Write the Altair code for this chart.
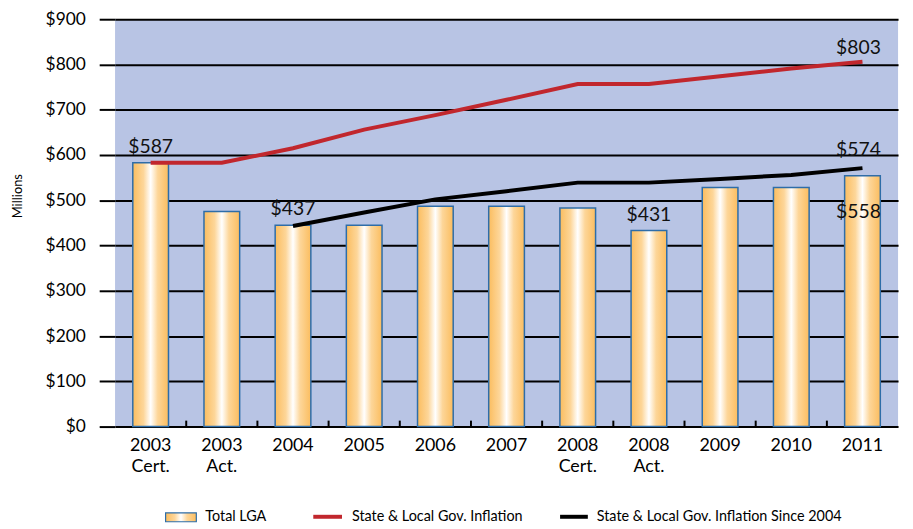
import altair as alt
import pandas as pd

# ---- data ----
categories = ["2003|Cert.", "2003|Act.", "2004", "2005", "2006", "2007",
              "2008|Cert.", "2008|Act.", "2009", "2010", "2011"]
total_lga = [583, 475, 445, 445, 487, 487, 483, 433, 528, 528, 554]
inflation = [583, 583, 615, 656, 688, 722, 757, 757, 774, 791, 806]
inflation_since_2004 = [None, None, 443, 473, 502, 520, 539, 539, 547, 556, 571]

label_cats = ["2003|Cert.", "2004", "2008|Act.", "2011", "2011", "2011"]
label_anchor = [583, 445, 433, 806, 571, 554]
label_text = ["$587", "$437", "$431", "$803", "$574", "$558"]
label_dy = [-6, -6, -6, -4, -8, 47]
label_dx = [0, 0, 0, -4, -4, -4]

legend_labels = ["Total LGA", "State & Local Gov. Inflation",
                 "State & Local Gov. Inflation Since 2004"]

FONT = "Lato"
BG = "#b8c4e4"
RED = "#c1272d"
ORANGE = "#fbbd5f"

df = pd.DataFrame({
    "cat": categories,
    "lga": total_lga,
    "infl": inflation,
    "infl04": inflation_since_2004,
})
labels_df = pd.DataFrame({
    "cat": label_cats, "v": label_anchor, "t": label_text,
})

grad = alt.Gradient(
    gradient="linear",
    stops=[
        alt.GradientStop(color=ORANGE, offset=0),
        alt.GradientStop(color="#fdd699", offset=0.3),
        alt.GradientStop(color="#ffffff", offset=0.5),
        alt.GradientStop(color="#fdd699", offset=0.7),
        alt.GradientStop(color=ORANGE, offset=1),
    ],
    x1=0, x2=1, y1=0, y2=0,
)

xscale = alt.Scale(paddingInner=0, paddingOuter=0)
x_enc = alt.X(
    "cat:N", sort=categories, scale=xscale, title=None,
    axis=alt.Axis(
        labelExpr="split(datum.label, '|')",
        labelFont=FONT, labelFontSize=18, labelColor="black",
        labelLineHeight=21, labelPadding=10, labelAngle=0,
        ticks=False, domain=False, grid=False,
    ),
)
yscale = alt.Scale(domain=[0, 900])
y_axis = alt.Axis(
    values=list(range(0, 1000, 100)),
    labelExpr="'$' + datum.value",
    labelFont=FONT, labelFontSize=17.5, labelColor="black", labelPadding=14,
    tickSize=16, tickWidth=2, tickColor="black",
    grid=True, gridColor="black", gridWidth=2,
    domain=False,
    title="Millions", titleFont=FONT, titleFontSize=13, titleFontWeight="normal",
    titleColor="black", titleAngle=-90, titleX=-98, titleY=178,
    titleAlign="center", titleBaseline="middle",
)

base = alt.Chart(df)

bars = base.mark_bar(size=36, color=grad, stroke="#2e6da8", strokeWidth=1.5).encode(
    x=x_enc,
    y=alt.Y("lga:Q", scale=yscale, axis=y_axis),
)

red_line = base.mark_line(color=RED, strokeWidth=4).encode(
    x=alt.X("cat:N", sort=categories),
    y=alt.Y("infl:Q"),
)

black_line = base.transform_filter("isValid(datum.infl04)").mark_line(
    color="black", strokeWidth=4).encode(
    x=alt.X("cat:N", sort=categories),
    y=alt.Y("infl04:Q"),
)

# small category ticks pointing up from the baseline
ticks = alt.Chart(pd.DataFrame({"cat": categories[1:]})).mark_rule(
    color="black", strokeWidth=2).encode(
    x=alt.X("cat:N", sort=categories, bandPosition=0),
    y=alt.value(405), y2=alt.value(411),
)

label_layers = []
for i in range(len(label_text)):
    label_layers.append(
        alt.Chart(labels_df.iloc[[i]]).mark_text(
            font=FONT, fontSize=19.5, color="#111111", baseline="bottom",
            dy=int(label_dy[i]), dx=int(label_dx[i])).encode(
            x=alt.X("cat:N", sort=categories),
            y=alt.Y("v:Q"),
            text="t:N",
        )
    )

# ---- legend (drawn below the plot) ----
one = pd.DataFrame({"k": [0]})
leg_rect = alt.Chart(one).mark_rect(color=grad, stroke="#2e6da8", strokeWidth=1.2).encode(
    x=alt.value(51), x2=alt.value(82), y=alt.value(498), y2=alt.value(507))
leg_red = alt.Chart(one).mark_rule(color=RED, strokeWidth=4).encode(
    x=alt.value(200), x2=alt.value(229), y=alt.value(502))
leg_black = alt.Chart(one).mark_rule(color="black", strokeWidth=4).encode(
    x=alt.value(449), x2=alt.value(477), y=alt.value(502))
leg_texts = [
    alt.Chart(one).mark_text(font=FONT, fontSize=14.5, color="black", align="left",
                             baseline="middle").encode(
        x=alt.value(xp), y=alt.value(502), text=alt.value(t))
    for xp, t in zip([91, 239, 486], legend_labels)
]

chart = alt.layer(
    bars, ticks, red_line, black_line, *label_layers,
    leg_rect, leg_red, leg_black, *leg_texts,
).properties(
    width=790, height=411,
    autosize=alt.AutoSizeParams(type="none"),
    padding={"left": 108, "top": 9, "right": 7, "bottom": 100},
).configure(
    font=FONT,
).configure_view(
    fill=BG, stroke=None,
)

chart.save("out.html", embed_options={"renderer": "svg", "actions": False})
